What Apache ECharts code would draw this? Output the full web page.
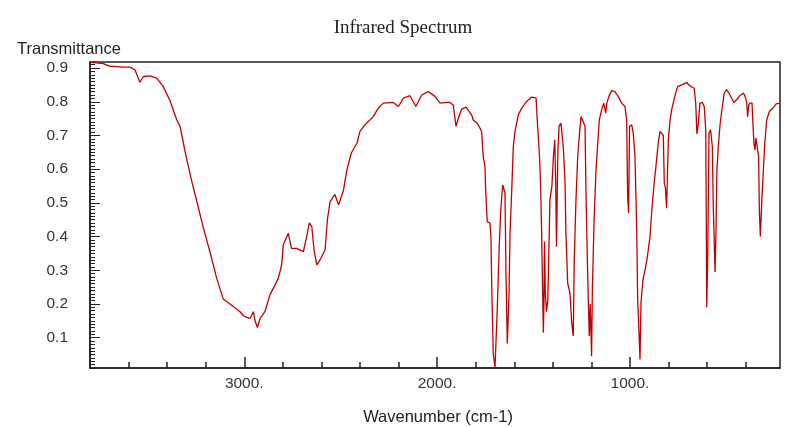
<!DOCTYPE html>
<html>
<head>
<meta charset="utf-8">
<script src="https://cdn.jsdelivr.net/npm/echarts@6/dist/echarts.min.js"></script>
<style>html,body{margin:0;padding:0;background:#fff}#c{width:786px;height:427px}</style>
</head>
<body>
<div id="c"></div>
<script>
// Wavenumber (cm-1), descending
const wavenumbers = [
3800,3791,3731,3696,3679,3627,3593,3584,3567,3541,3523,3489,3454,3420,3385,3350,3333,3307,3272,3246,
3212,3178,3143,3109,3074,3022,3005,2987,2970,2953,2944,2932,2918,2893,2867,2841,2824,2806,2798,2772,
2755,2729,2694,2680,2663,2650,2638,2624,2607,2581,2569,2555,2530,2511,2503,2485,2468,2445,2416,2400,
2374,2331,2305,2279,2227,2201,2175,2141,2110,2080,2046,2011,1985,1951,1933,1916,1902,1890,1873,1850,
1821,1813,1795,1787,1769,1761,1752,1747,1740,1726,1721,1716,1709,1700,1691,1688,1678,1670,1660,1652,
1648,1643,1636,1627,1622,1613,1605,1596,1579,1561,1536,1510,1487,1481,1470,1463,1458,1453,1449,1446,
1443,1439,1433,1426,1415,1405,1397,1390,1385,1381,1374,1368,1358,1346,1337,1332,1323,1311,1302,1294,
1289,1280,1271,1263,1254,1244,1233,1228,1221,1216,1211,1206,1199,1195,1186,1176,1167,1159,1147,1136,
1126,1120,1109,1095,1078,1061,1043,1026,1017,1012,1007,1002,991,983,974,965,960,953,948,943,
933,922,912,896,888,876,865,853,844,836,827,822,816,810,801,793,784,770,753,732,
706,689,667,659,653,646,637,625,615,607,604,602,597,590,582,573,568,559,554,549,
542,532,521,511,499,487,473,461,447,430,412,403,395,390,384,378,367,362,357,352,
347,340,333,329,324,317,308,301,291,277,259,242,222
];
// Transmittance values
const transmittance = [
0.918,0.915,0.913,0.905,0.905,0.903,0.903,0.905,0.895,0.858,0.875,0.877,0.870,0.845,0.803,0.746,0.727,0.652,0.563,0.504,
0.425,0.355,0.276,0.215,0.200,0.177,0.165,0.160,0.157,0.177,0.150,0.130,0.157,0.177,0.227,0.256,0.276,0.316,0.375,0.410,
0.365,0.365,0.355,0.390,0.441,0.430,0.360,0.316,0.331,0.360,0.450,0.504,0.525,0.494,0.494,0.539,0.598,0.648,0.677,0.712,
0.732,0.756,0.781,0.796,0.798,0.786,0.811,0.818,0.786,0.820,0.830,0.816,0.796,0.798,0.798,0.790,0.727,0.751,0.778,0.784,
0.761,0.746,0.738,0.732,0.712,0.637,0.608,0.519,0.444,0.440,0.400,0.232,0.053,0.010,0.014,0.187,0.370,0.479,0.553,0.558,
0.529,0.291,0.083,0.232,0.410,0.539,0.667,0.712,0.761,0.781,0.801,0.814,0.811,0.746,0.648,0.548,0.410,0.242,0.115,0.212,
0.385,0.232,0.177,0.212,0.509,0.548,0.637,0.687,0.558,0.370,0.650,0.727,0.737,0.667,0.568,0.410,0.261,0.232,0.143,0.105,
0.331,0.509,0.637,0.697,0.756,0.761,0.727,0.529,0.331,0.212,0.105,0.200,0.045,0.242,0.449,0.598,0.677,0.746,0.776,0.796,
0.766,0.796,0.816,0.833,0.830,0.816,0.796,0.786,0.746,0.520,0.470,0.727,0.732,0.707,0.637,0.420,0.212,0.113,0.035,0.202,
0.271,0.301,0.331,0.400,0.469,0.550,0.610,0.680,0.712,0.717,0.700,0.558,0.544,0.484,0.687,0.741,0.776,0.811,0.845,0.850,
0.857,0.847,0.840,0.796,0.705,0.732,0.796,0.798,0.786,0.717,0.430,0.190,0.331,0.707,0.717,0.667,0.489,0.295,0.420,0.598,
0.667,0.737,0.786,0.826,0.836,0.826,0.811,0.798,0.806,0.818,0.826,0.816,0.800,0.756,0.790,0.796,0.796,0.732,0.677,0.657,
0.692,0.687,0.637,0.479,0.400,0.499,0.598,0.677,0.746,0.771,0.781,0.794,0.796
];
const xMajorTicks = [3000, 2000, 1000];
const xMinorTicks = [3600,3400,3200,2800,2600,2400,2200,1800,1600,1400,1200,800,600,400];
const yMajorTicks = [0.1,0.2,0.3,0.4,0.5,0.6,0.7,0.8,0.9];
const yMinorTicks = [];
for (let i = 1; i <= 91; i++) { const v = +(i/100).toFixed(2); if (i % 10 !== 0) yMinorTicks.push(v); }

const title = 'Infrared Spectrum';
const yName = 'Transmittance';
const xName = 'Wavenumber (cm-1)';

const X_MIN = 222, X_MAX = 3800, Y_MIN = 0.01, Y_MAX = 0.918;
const axisColor = '#222';
const labelFont = {color:'#333', fontFamily:'Liberation Sans', fontSize:15.5};

const chart = echarts.init(document.getElementById('c'), null, {renderer:'canvas'});
chart.setOption({
  animation:false,
  backgroundColor:'#fff',
  title:[
    {text:title, left:398, textAlign:'center', top:14, textStyle:{fontFamily:'Liberation Serif', fontWeight:'normal', fontSize:19, color:'#222'}},
    {text:yName, left:12, top:36, textStyle:{fontFamily:'Liberation Sans', fontWeight:'normal', fontSize:16.5, color:'#222'}},
    {text:xName, left:433, textAlign:'center', top:404, textStyle:{fontFamily:'Liberation Sans', fontWeight:'normal', fontSize:16.5, color:'#222'}}
  ],
  grid:{left:90, right:6, top:62, bottom:59, show:true, borderColor:axisColor, borderWidth:1.5, backgroundColor:'transparent'},
  xAxis:[
    {type:'value', inverse:true, min:X_MIN, max:X_MAX, position:'bottom',
     axisLine:{show:true, lineStyle:{color:axisColor, width:1.5}},
     axisTick:{show:true, inside:true, length:11, customValues:xMajorTicks, lineStyle:{color:axisColor, width:1.5}},
     axisLabel:{show:true, customValues:xMajorTicks, margin:8, formatter:v=>v+'.', ...labelFont},
     splitLine:{show:false}},
    {type:'value', inverse:true, min:X_MIN, max:X_MAX, position:'bottom',
     axisLine:{show:false},
     axisTick:{show:true, inside:true, length:6, customValues:xMinorTicks, lineStyle:{color:axisColor, width:1.5}},
     axisLabel:{show:false}, splitLine:{show:false}}
  ],
  yAxis:[
    {type:'value', min:Y_MIN, max:Y_MAX, position:'left',
     axisLine:{show:true, lineStyle:{color:axisColor, width:1.5}},
     axisTick:{show:true, inside:true, length:10, customValues:yMajorTicks, lineStyle:{color:axisColor, width:1}},
     axisLabel:{show:true, customValues:yMajorTicks, margin:22, formatter:v=>v.toFixed(1), ...labelFont},
     splitLine:{show:false}},
    {type:'value', min:Y_MIN, max:Y_MAX, position:'left',
     axisLine:{show:false},
     axisTick:{show:true, inside:true, length:5, customValues:yMinorTicks, lineStyle:{color:axisColor, width:1}},
     axisLabel:{show:false}, splitLine:{show:false}}
  ],
  series:[{
    type:'line', xAxisIndex:0, yAxisIndex:0, showSymbol:false, silent:true,
    lineStyle:{color:'#c00000', width:1.3},
    data: wavenumbers.map((w,i)=>[w, transmittance[i]])
  }]
});
</script>
</body>
</html>
